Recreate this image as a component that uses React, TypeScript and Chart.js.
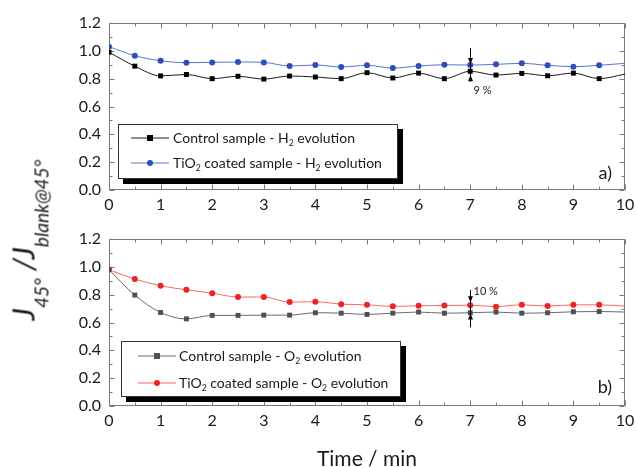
import React, { useEffect, useRef } from "react";
import { Chart, registerables } from "chart.js";
Chart.register(...registerables);

const times = [0, 0.5, 1, 1.5, 2, 2.5, 3, 3.5, 4, 4.5, 5, 5.5, 6, 6.5, 7, 7.5, 8, 8.5, 9, 9.5, 10];
const controlH2 = [0.99, 0.89, 0.82, 0.83, 0.8, 0.817, 0.797, 0.819, 0.812, 0.8, 0.843, 0.805, 0.84, 0.8, 0.853, 0.826, 0.838, 0.821, 0.84, 0.8, 0.833];
const tio2H2 = [1.03, 0.965, 0.929, 0.915, 0.917, 0.92, 0.917, 0.891, 0.898, 0.884, 0.896, 0.876, 0.891, 0.9, 0.898, 0.903, 0.91, 0.896, 0.886, 0.896, 0.91];
const controlO2 = [0.98, 0.797, 0.672, 0.626, 0.651, 0.651, 0.653, 0.653, 0.67, 0.667, 0.658, 0.667, 0.675, 0.667, 0.67, 0.675, 0.667, 0.67, 0.677, 0.679, 0.675];
const tio2O2 = [0.98, 0.912, 0.864, 0.835, 0.811, 0.783, 0.783, 0.747, 0.749, 0.732, 0.727, 0.716, 0.72, 0.722, 0.724, 0.714, 0.727, 0.718, 0.727, 0.727, 0.718];
const xTickValues = [0, 1, 2, 3, 4, 5, 6, 7, 8, 9, 10];
const yTickValues = [0, 0.2, 0.4, 0.6, 0.8, 1.0, 1.2];

const FONT = "Lato, 'Open Sans', sans-serif";
const FRAME = "#7a7a7a";

const framePlugin = {
  id: "frame",
  beforeDatasetsDraw(chart: any) {
    const { ctx, chartArea, scales } = chart;
    const { left, right, top, bottom } = chartArea;
    const x = scales.x, y = scales.y;
    ctx.save();
    ctx.strokeStyle = FRAME;
    ctx.lineWidth = 1;
    const L = Math.round(left) + 0.5, R = Math.round(right) - 0.5, T = Math.round(top) + 0.5, B = Math.round(bottom) - 0.5;
    ctx.strokeRect(L, T, R - L, B - T);
    ctx.beginPath();
    for (let i = 0; i <= 20; i++) {
      const v = i / 2;
      const px = Math.round(x.getPixelForValue(v)) + 0.5;
      const len = i % 2 === 0 ? 5 : 3;
      ctx.moveTo(px, B); ctx.lineTo(px, B - len);
      ctx.moveTo(px, T); ctx.lineTo(px, T + len);
    }
    for (let i = 0; i <= 12; i++) {
      const v = i / 10;
      const py = Math.round(y.getPixelForValue(v)) + 0.5;
      const len = i % 2 === 0 ? 5 : 3;
      ctx.moveTo(L, py); ctx.lineTo(L + len, py);
      ctx.moveTo(R, py); ctx.lineTo(R - len, py);
    }
    ctx.stroke();
    ctx.restore();
  },
  afterDatasetsDraw(chart: any, _args: any, opts: any) {
    if (!opts || opts.xv === undefined) return;
    const { ctx, scales } = chart;
    const x = scales.x, y = scales.y;
    const px = Math.round(x.getPixelForValue(opts.xv)) + 0.5;
    const y1 = y.getPixelForValue(opts.y1), y2 = y.getPixelForValue(opts.y2);
    ctx.save();
    ctx.strokeStyle = "#000";
    ctx.fillStyle = "#000";
    ctx.lineWidth = 1;
    ctx.beginPath();
    ctx.moveTo(px, y1); ctx.lineTo(px, y2);
    ctx.stroke();
    const td = y.getPixelForValue(opts.tipDown);
    ctx.beginPath();
    ctx.moveTo(px, td); ctx.lineTo(px - 2.5, td - 6); ctx.lineTo(px + 2.5, td - 6); ctx.closePath();
    ctx.fill();
    const tu = y.getPixelForValue(opts.tipUp);
    ctx.beginPath();
    ctx.moveTo(px, tu); ctx.lineTo(px - 2.5, tu + 6); ctx.lineTo(px + 2.5, tu + 6); ctx.closePath();
    ctx.fill();
    ctx.font = `11px ${FONT}`;
    ctx.textBaseline = "middle";
    ctx.textAlign = "left";
    ctx.fillStyle = "#222";
    ctx.fillText(opts.text, px + 3, y.getPixelForValue(opts.textY));
    ctx.restore();
  },
};

function makeDataset(values: number[], label: string, line: string, marker: string, style: string, radius: number) {
  return {
    label,
    data: times.map((t, i) => ({ x: t, y: values[i] })),
    borderColor: line,
    backgroundColor: marker,
    pointBackgroundColor: marker,
    pointBorderColor: marker,
    borderWidth: 1,
    pointStyle: style,
    pointRadius: times.map((_, i) => (i === times.length - 1 ? 0 : radius)),
    pointBorderWidth: 0,
    cubicInterpolationMode: "monotone",
  };
}

function makeConfig(datasets: any[], padTop: number, xHeight: number, ann: any) {
  return {
    type: "line",
    data: { datasets },
    plugins: [framePlugin],
    options: {
      animation: false,
      responsive: false,
      maintainAspectRatio: false,
      layout: { padding: { top: padTop, right: 11, left: 0, bottom: 0 } },
      plugins: { legend: { display: false }, tooltip: { enabled: false }, frame: ann },
      scales: {
        x: {
          type: "linear",
          min: 0,
          max: 10,
          afterBuildTicks: (s: any) => { s.ticks = xTickValues.map((v) => ({ value: v })); },
          afterFit: (s: any) => { s.height = xHeight; s.paddingRight = 0; s.paddingLeft = 0; },
          grid: { display: false, drawTicks: false },
          border: { display: false },
          ticks: { font: { family: FONT, size: 16 }, color: "#1a1a1a", padding: 5, maxRotation: 0, autoSkip: false, callback: (v: any) => String(v) },
        },
        y: {
          min: 0,
          max: 1.2,
          afterBuildTicks: (s: any) => { s.ticks = yTickValues.map((v) => ({ value: v })); },
          afterFit: (s: any) => { s.width = 109; },
          grid: { display: false, drawTicks: false },
          border: { display: false },
          ticks: { font: { family: FONT, size: 16 }, color: "#1a1a1a", padding: 8, callback: (v: any) => Number(v).toFixed(1) },
        },
      },
    },
  };
}

function Sub({ children }: { children: any }) {
  return <span style={{ fontSize: "0.62em", position: "relative", top: "0.35em", lineHeight: 0 }}>{children}</span>;
}

function LegendRow({ top, lineLeft, lineWidth, textLeft, color, marker, shape, children }: any) {
  return (
    <>
      <svg style={{ position: "absolute", left: lineLeft, top: top - 5 }} width={lineWidth} height={10}>
        <line x1={0} y1={5} x2={lineWidth} y2={5} stroke={color} strokeWidth={1} />
        {shape === "rect" ? (
          <rect x={lineWidth / 2 - 3} y={2} width={6} height={6} fill={marker} />
        ) : (
          <circle cx={lineWidth / 2} cy={5} r={3} fill={marker} />
        )}
      </svg>
      <div style={{ position: "absolute", left: textLeft, top: top - 9, fontFamily: FONT, fontSize: 14, lineHeight: "18px", color: "#1a1a1a", whiteSpace: "nowrap" }}>{children}</div>
    </>
  );
}

function LegendBox({ left, top, width, height, children }: any) {
  return (
    <div style={{ position: "absolute", left, top, width, height, boxSizing: "border-box", border: "1px solid #333", background: "#fff", boxShadow: "5px 5px 0 #000" }}>
      {children}
    </div>
  );
}

export default function App() {
  const topRef = useRef<HTMLCanvasElement>(null);
  const botRef = useRef<HTMLCanvasElement>(null);

  useEffect(() => {
    document.body.style.margin = "0";
    const c1 = new Chart(topRef.current as any, makeConfig([
      makeDataset(tio2H2, "TiO2 coated sample - H2 evolution", "#5a74d0", "#2f4fb8", "circle", 3),
      makeDataset(controlH2, "Control sample - H2 evolution", "#1a1a1a", "#000", "rect", 3.5),
    ], 23, 25, { xv: 7, y1: 1.02, y2: 0.78, tipDown: 0.905, tipUp: 0.825, text: "9 %", textY: 0.718 }) as any);
    const c2 = new Chart(botRef.current as any, makeConfig([
      makeDataset(controlO2, "Control sample - O2 evolution", "#6a6a6a", "#505050", "rect", 3.5),
      makeDataset(tio2O2, "TiO2 coated sample - O2 evolution", "#ff6464", "#ee2222", "circle", 3),
    ], 24, 61, { xv: 7, y1: 0.835, y2: 0.565, tipDown: 0.745, tipUp: 0.665, text: "10 %", textY: 0.826 }) as any);
    return () => { c1.destroy(); c2.destroy(); };
  }, []);

  return (
    <div style={{ position: "absolute", left: 0, top: 0, width: 636, height: 467, background: "#fff", overflow: "hidden" }}>
      <canvas ref={topRef} width={636} height={215} style={{ position: "absolute", left: 0, top: 0, width: 636, height: 215 }} />
      <canvas ref={botRef} width={636} height={252} style={{ position: "absolute", left: 0, top: 215, width: 636, height: 252 }} />

      <LegendBox left={118} top={124} width={280} height={55}>
        <LegendRow top={13} lineLeft={12} lineWidth={38} textLeft={54} color="#1a1a1a" marker="#000" shape="rect">
          Control sample - H<Sub>2</Sub> evolution
        </LegendRow>
        <LegendRow top={38} lineLeft={12} lineWidth={38} textLeft={54} color="#5a74d0" marker="#2f4fb8" shape="circle">
          TiO<Sub>2</Sub> coated sample - H<Sub>2</Sub> evolution
        </LegendRow>
      </LegendBox>

      <LegendBox left={121} top={341} width={280} height={56}>
        <LegendRow top={14} lineLeft={16} lineWidth={38} textLeft={57} color="#6a6a6a" marker="#505050" shape="rect">
          Control sample - O<Sub>2</Sub> evolution
        </LegendRow>
        <LegendRow top={41} lineLeft={16} lineWidth={38} textLeft={57} color="#ff6464" marker="#ee2222" shape="circle">
          TiO<Sub>2</Sub> coated sample - O<Sub>2</Sub> evolution
        </LegendRow>
      </LegendBox>

      <div style={{ position: "absolute", left: 560, width: 52, top: 161, textAlign: "right", fontFamily: FONT, fontSize: 18, lineHeight: "22px", color: "#1a1a1a" }}>a)</div>
      <div style={{ position: "absolute", left: 560, width: 52, top: 375, textAlign: "right", fontFamily: FONT, fontSize: 18, lineHeight: "22px", color: "#1a1a1a" }}>b)</div>

      <div style={{ position: "absolute", left: 267, width: 200, top: 446, textAlign: "center", fontFamily: FONT, fontSize: 21, lineHeight: "24px", color: "#1a1a1a" }}>Time / min</div>

      <div style={{ position: "absolute", left: 25, top: 240, transform: "translate(-50%, -50%) rotate(-90deg)", fontFamily: FONT, fontStyle: "italic", fontSize: 31, lineHeight: "40px", color: "#1a1a1a", whiteSpace: "nowrap" }}>
        J<span style={{ fontSize: 19, position: "relative", top: 14 }}>45°</span> /J<span style={{ fontSize: 19, position: "relative", top: 14 }}>blank@45°</span>
      </div>
    </div>
  );
}
